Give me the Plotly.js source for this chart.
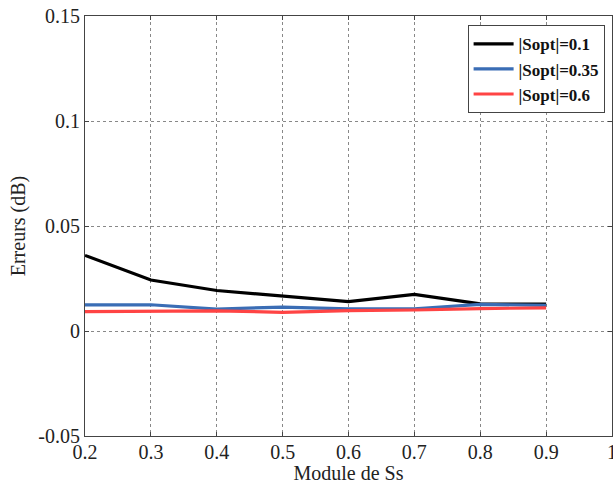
<!DOCTYPE html>
<html>
<head>
<meta charset="utf-8">
<script src="https://cdn.plot.ly/plotly-3.0.1.min.js"></script>
<style>html,body{margin:0;padding:0;background:#fff;}#chart{width:613px;height:484px;}</style>
</head>
<body>
<div id="chart"></div>
<script>
const xValues = [0.2, 0.3, 0.4, 0.5, 0.6, 0.7, 0.8, 0.9];
const sopt01 = [0.036, 0.0243, 0.0193, 0.0166, 0.0140, 0.0174, 0.0129, 0.0128];
const sopt035 = [0.0124, 0.0125, 0.0104, 0.0114, 0.0105, 0.0106, 0.0127, 0.0122];
const sopt06 = [0.0092, 0.0094, 0.0096, 0.0089, 0.0097, 0.0100, 0.0107, 0.0110];
const seriesNames = ['|Sopt|=0.1', '|Sopt|=0.35', '|Sopt|=0.6'];
const xTickVals = [0.2, 0.3, 0.4, 0.5, 0.6, 0.7, 0.8, 0.9, 1];
const xTickText = ['0.2', '0.3', '0.4', '0.5', '0.6', '0.7', '0.8', '0.9', '1'];
const yTickVals = [-0.05, 0, 0.05, 0.1, 0.15];
const yTickText = ['-0.05', '0', '0.05', '0.1', '0.15'];

const colors = ['#000000', '#3a6db5', '#ff4444'];
const data = [sopt01, sopt035, sopt06].map((ys, i) => ({
  x: xValues, y: ys, type: 'scatter', mode: 'lines', name: seriesNames[i],
  line: {color: colors[i], width: 3.2}
}));

const serif = 'Times New Roman, Liberation Serif, serif';
const tf = {family: serif, size: 20, color: '#222', weight: 'normal', style: 'normal'};
const layout = {
  width: 613, height: 484,
  margin: {l: 85, r: 1, t: 16, b: 48},
  paper_bgcolor: '#fff', plot_bgcolor: '#fff',
  font: {family: serif, color: '#222'},
  showlegend: true,
  legend: {x: 0.726, y: 0.978, xanchor: 'left', yanchor: 'top',
    bordercolor: '#444', borderwidth: 1, bgcolor: '#fff',
    font: {family: serif, size: 17, color: '#111', weight: 'bold'},
    itemwidth: 40},
  xaxis: {range: [0.2, 1], tickvals: xTickVals, ticktext: xTickText,
    showline: true, linecolor: '#444', linewidth: 1, mirror: 'ticks',
    ticks: 'inside', ticklen: 4, tickcolor: '#444', ticklabelstandoff: -2,
    ticklabeloverflow: 'allow',
    showgrid: true, gridcolor: '#888', griddash: 'dot', gridwidth: 1,
    zeroline: false,
    tickfont: tf,
    title: {text: 'Module de Ss', font: tf, standoff: 2}},
  yaxis: {range: [-0.05, 0.15], tickvals: yTickVals, ticktext: yTickText,
    showline: true, linecolor: '#444', linewidth: 1, mirror: 'ticks',
    ticks: 'inside', ticklen: 4, tickcolor: '#444',
    showgrid: true, gridcolor: '#888', griddash: 'dot', gridwidth: 1,
    zeroline: false,
    tickfont: tf,
    title: {text: 'Erreurs (dB)', font: tf, standoff: 7}}
};
Plotly.newPlot('chart', data, layout, {displayModeBar: false, staticPlot: true});
</script>
</body>
</html>
